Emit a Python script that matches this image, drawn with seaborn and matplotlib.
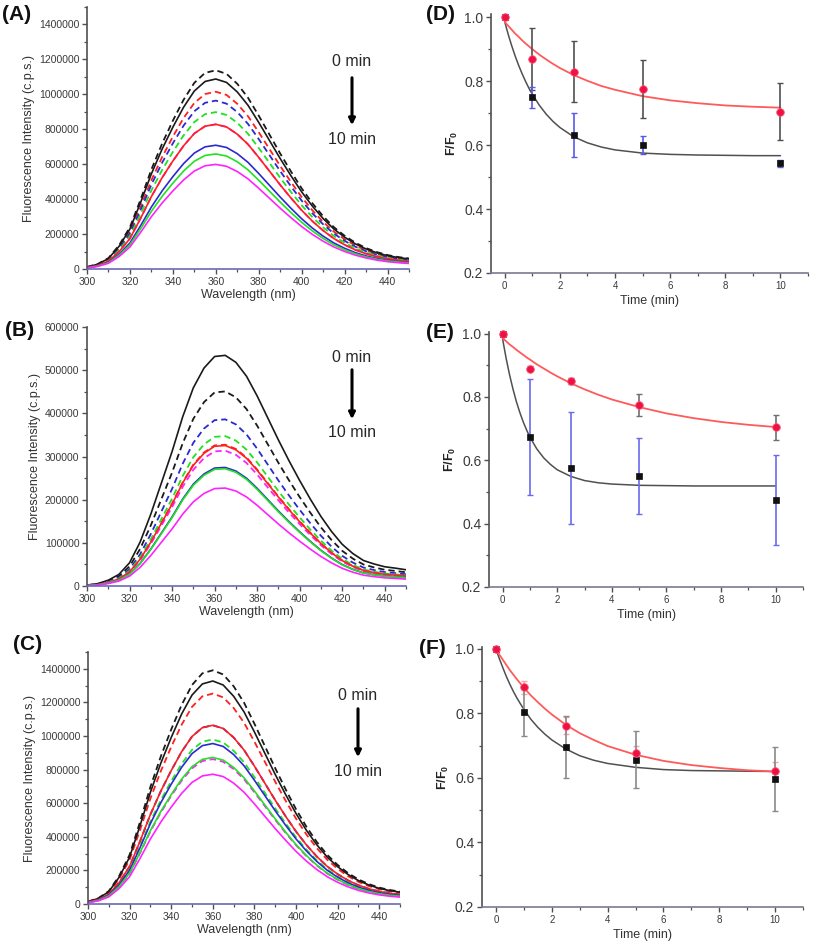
import matplotlib
matplotlib.use("Agg")
import matplotlib.pyplot as plt
from matplotlib.ticker import MultipleLocator
import numpy as np
import pandas as pd
import seaborn as sns

# ---- spectra (A-C) ----
wavelength = [300, 305, 310, 315, 320, 325, 330, 335, 340, 345, 350, 355, 360,
              365, 370, 375, 380, 385, 390, 395, 400, 405, 410, 415, 420, 425,
              430, 435, 440, 445, 450]
profile_ac = [0.01, 0.025, 0.055, 0.12, 0.21, 0.35, 0.50, 0.63, 0.745, 0.85, 0.935,
              0.985, 0.998, 0.98, 0.93, 0.86, 0.77, 0.675, 0.58, 0.49, 0.405, 0.33,
              0.265, 0.21, 0.167, 0.132, 0.105, 0.085, 0.07, 0.06, 0.053]
profile_b = [0.004, 0.01, 0.025, 0.05, 0.10, 0.19, 0.31, 0.445, 0.58, 0.73, 0.855,
             0.94, 0.99, 0.995, 0.965, 0.905, 0.82, 0.725, 0.63, 0.54, 0.455, 0.375,
             0.30, 0.235, 0.18, 0.14, 0.11, 0.095, 0.083, 0.077, 0.07]

curve_colors = ["#1a1a1a", "#ff2020", "#2a2ad0", "#22e022", "#ff22ff"]  # black red blue green magenta
peaks_a_dashed = [1140000, 1017000, 966000, 900000, 830000]
peaks_a_solid = [1090000, 830000, 710000, 660000, 600000]
peaks_b_dashed = [453000, 329000, 388000, 349000, 315000]
peaks_b_solid = [537000, 327000, 276000, 273000, 228000]
peaks_c_dashed = [1394000, 1255000, 1066000, 981000, 864000]
peaks_c_solid = [1330000, 1066000, 957000, 874000, 774000]

# ---- kinetics (D-F) ----
time = [0, 1, 2.5, 5, 10]
d_red = [1.0, 0.869, 0.829, 0.775, 0.705]
d_red_err = [0, 0.096, 0.095, 0.091, 0.089]
d_black = [1.0, 0.749, 0.631, 0.600, 0.543]
d_black_err = [0, 0.034, 0.068, 0.029, 0.01]
e_red = [1.0, 0.889, 0.851, 0.775, 0.704]
e_red_err = [0, 0.008, 0.009, 0.034, 0.039]
e_black = [1.0, 0.673, 0.575, 0.551, 0.476]
e_black_err = [0, 0.184, 0.177, 0.119, 0.142]
f_red = [1.0, 0.881, 0.762, 0.678, 0.621]
f_red_err = [0, 0.02, 0.026, 0.022, 0.03]
f_black = [1.0, 0.804, 0.695, 0.657, 0.597]
f_black_err = [0, 0.075, 0.096, 0.089, 0.098]

# fitted decay curves
fit_time = [0, 0.125, 0.25, 0.375, 0.5, 0.625, 0.75, 0.875, 1, 1.25, 1.5, 1.75, 2,
            2.5, 3, 3.5, 4, 5, 6, 7, 8, 9, 10]
d_red_fit = [0.985, 0.973, 0.961, 0.949, 0.939, 0.928, 0.918, 0.909, 0.900, 0.883, 0.868,
             0.854, 0.841, 0.819, 0.801, 0.785, 0.773, 0.753, 0.740, 0.731, 0.724, 0.720, 0.717]
d_black_fit = [0.985, 0.946, 0.911, 0.879, 0.850, 0.824, 0.800, 0.778, 0.759, 0.725, 0.697,
               0.674, 0.655, 0.626, 0.607, 0.594, 0.585, 0.575, 0.571, 0.569, 0.568, 0.567, 0.567]
e_red_fit = [0.985, 0.976, 0.966, 0.958, 0.949, 0.941, 0.933, 0.925, 0.918, 0.903, 0.890,
             0.877, 0.865, 0.843, 0.824, 0.807, 0.792, 0.768, 0.748, 0.733, 0.721, 0.712, 0.705]
e_black_fit = [0.982, 0.923, 0.871, 0.826, 0.786, 0.752, 0.722, 0.696, 0.673, 0.636, 0.608,
               0.587, 0.570, 0.549, 0.536, 0.529, 0.525, 0.521, 0.520, 0.519, 0.519, 0.519, 0.519]
f_red_fit = [1.0, 0.982, 0.966, 0.950, 0.934, 0.920, 0.906, 0.893, 0.880, 0.856, 0.835,
             0.815, 0.797, 0.765, 0.739, 0.718, 0.699, 0.672, 0.653, 0.640, 0.631, 0.624, 0.620]
f_black_fit = [1.0, 0.969, 0.941, 0.914, 0.890, 0.868, 0.848, 0.830, 0.813, 0.782, 0.757,
               0.736, 0.718, 0.690, 0.669, 0.655, 0.645, 0.633, 0.626, 0.623, 0.622, 0.621, 0.620]

sns.set_style("ticks")
plt.rcParams['font.family'] = ['Liberation Sans', 'DejaVu Sans']
plt.rcParams['mathtext.fontset'] = 'custom'
plt.rcParams['mathtext.bf'] = 'Liberation Sans:bold'
plt.rcParams['mathtext.rm'] = 'Liberation Sans'

W, H = 813, 952
fig = plt.figure(figsize=(W / 100, H / 100), dpi=100)


def px_axes(left, top, right, bottom):
    return fig.add_axes([left / W, 1 - bottom / H, (right - left) / W, (bottom - top) / H])


def style_axes(ax, bottom_color):
    sns.despine(ax=ax)
    ax.spines['left'].set_color('#505050')
    ax.spines['bottom'].set_color(bottom_color)
    for s in ('left', 'bottom'):
        ax.spines[s].set_linewidth(1.2)
    ax.tick_params(which='major', direction='out', length=3.5, width=1.0, color='#505050',
                   labelcolor='#3a3a3a', pad=2)
    ax.tick_params(which='minor', direction='out', length=2, width=0.9, color='#505050')


def spectra_panel(ax, profile, dashed, solid, ymax, step):
    rows = []
    for style, peaks in (("dash", dashed), ("solid", solid)):
        for c, p in zip(curve_colors, peaks):
            for w, v in zip(wavelength, profile):
                rows.append((w, v * p, c, style))
    df = pd.DataFrame(rows, columns=["wl", "val", "color", "style"])
    for (c, style), g in df.groupby(["color", "style"], sort=False):
        if style == "dash":
            sns.lineplot(data=g, x="wl", y="val", ax=ax, color=c, lw=1.3,
                         dashes=False, linestyle=(0, (3.5, 2.2)))
        else:
            sns.lineplot(data=g, x="wl", y="val", ax=ax, color=c, lw=1.2)
    ax.set_xlim(300, 450)
    ax.set_ylim(0, ymax)
    ax.xaxis.set_minor_locator(MultipleLocator(10))
    ax.yaxis.set_minor_locator(MultipleLocator(step / 2))
    ax.ticklabel_format(style='plain', axis='y', useOffset=False)
    ax.set_xticks([300, 320, 340, 360, 380, 400, 420, 440])
    ax.set_yticks(np.arange(0, ymax, step))
    style_axes(ax, '#6a6ab8')
    ax.tick_params(axis='both', labelsize=7.5)
    ax.set_xlabel("Wavelength (nm)", fontsize=9, color='#333333', labelpad=2)
    ax.set_ylabel("Fluorescence Intensity (c.p.s.)", fontsize=9, color='#333333', labelpad=3)


def kinetics_panel(ax, red, red_err, black, black_err, red_fit, black_fit,
                   red_bar, black_bar, ytop):
    sns.lineplot(x=fit_time, y=black_fit, ax=ax, color='#505050', lw=1.1)
    sns.lineplot(x=fit_time, y=red_fit, ax=ax, color='#ff5a5a', lw=1.3)
    ax.errorbar(time, red, yerr=red_err, fmt='none', ecolor=red_bar, elinewidth=1.2,
                capsize=2, capthick=1.0)
    ax.errorbar(time, black, yerr=black_err, fmt='none', ecolor=black_bar, elinewidth=1.2,
                capsize=2, capthick=1.0)
    sns.scatterplot(x=time, y=black, ax=ax, marker='s', s=14, color='#111111',
                    edgecolor='#111111', linewidth=0.5, zorder=4, clip_on=False)
    sns.scatterplot(x=time, y=red, ax=ax, marker='o', s=30, color='#ee1144',
                    edgecolor='#ff5577', linewidth=0.6, zorder=5, clip_on=False)
    ax.set_xlim(-0.5, 11)
    ax.set_ylim(0.2, ytop)
    ax.set_xticks([0, 2, 4, 6, 8, 10])
    ax.xaxis.set_minor_locator(MultipleLocator(1))
    ax.set_yticks([0.2, 0.4, 0.6, 0.8, 1.0])
    ax.set_yticklabels(["0.2", "0.4", "0.6", "0.8", "1.0"])
    ax.yaxis.set_minor_locator(MultipleLocator(0.1))
    style_axes(ax, '#7a7a90')
    ax.tick_params(axis='y', labelsize=10)
    ax.tick_params(axis='x', labelsize=7)
    ax.set_xlabel("Time (min)", fontsize=9, color='#333333', labelpad=3)
    ax.set_ylabel(r"$\mathbf{F/F_0}$", fontsize=9, color='#222222', labelpad=3)


ax_a = px_axes(87, 7, 409, 269)
spectra_panel(ax_a, profile_ac, peaks_a_dashed, peaks_a_solid, 1500000, 200000)
ax_b = px_axes(87, 327, 406, 586)
spectra_panel(ax_b, profile_b, peaks_b_dashed, peaks_b_solid, 600000, 100000)
ax_b.set_yticks(np.arange(0, 600001, 100000))
ax_c = px_axes(88, 652, 400, 904)
spectra_panel(ax_c, profile_ac, peaks_c_dashed, peaks_c_solid, 1500000, 200000)

ax_d = px_axes(491, 14, 808, 273)
kinetics_panel(ax_d, d_red, d_red_err, d_black, d_black_err, d_red_fit, d_black_fit,
               '#505050', '#5a5ae6', 1.01)
ax_e = px_axes(489, 332, 803, 587)
kinetics_panel(ax_e, e_red, e_red_err, e_black, e_black_err, e_red_fit, e_black_fit,
               '#707070', '#6a6aee', 1.005)
ax_f = px_axes(482, 647, 803, 907)
kinetics_panel(ax_f, f_red, f_red_err, f_black, f_black_err, f_red_fit, f_black_fit,
               '#f4a5a5', '#8a8a8a', 1.006)

# panel letters
for label, x, y in (("(A)", 2, 14), ("(B)", 5, 330), ("(C)", 13, 644),
                    ("(D)", 426, 15), ("(E)", 426, 333), ("(F)", 419, 649)):
    fig.text(x / W, 1 - y / H, label, fontsize=15, fontweight='bold',
             ha='left', va='center', color='#111111')

# time arrows
for x, y0, y1, y_top, y_bot in ((352, 75, 128, 62, 140), (352, 367, 422, 357, 433),
                                (358, 706, 760, 696, 771)):
    fig.text(x / W, 1 - y_top / H, "0 min", fontsize=11.5, ha='center', va='center')
    fig.text(x / W, 1 - y_bot / H, "10 min", fontsize=11.5, ha='center', va='center')
    fig.patches.append(matplotlib.patches.FancyArrowPatch(
        (x / W, 1 - y0 / H), (x / W, 1 - y1 / H), transform=fig.transFigure,
        arrowstyle='-|>', mutation_scale=9, lw=2.2, color='black'))

fig.savefig("out.png", dpi=100)
